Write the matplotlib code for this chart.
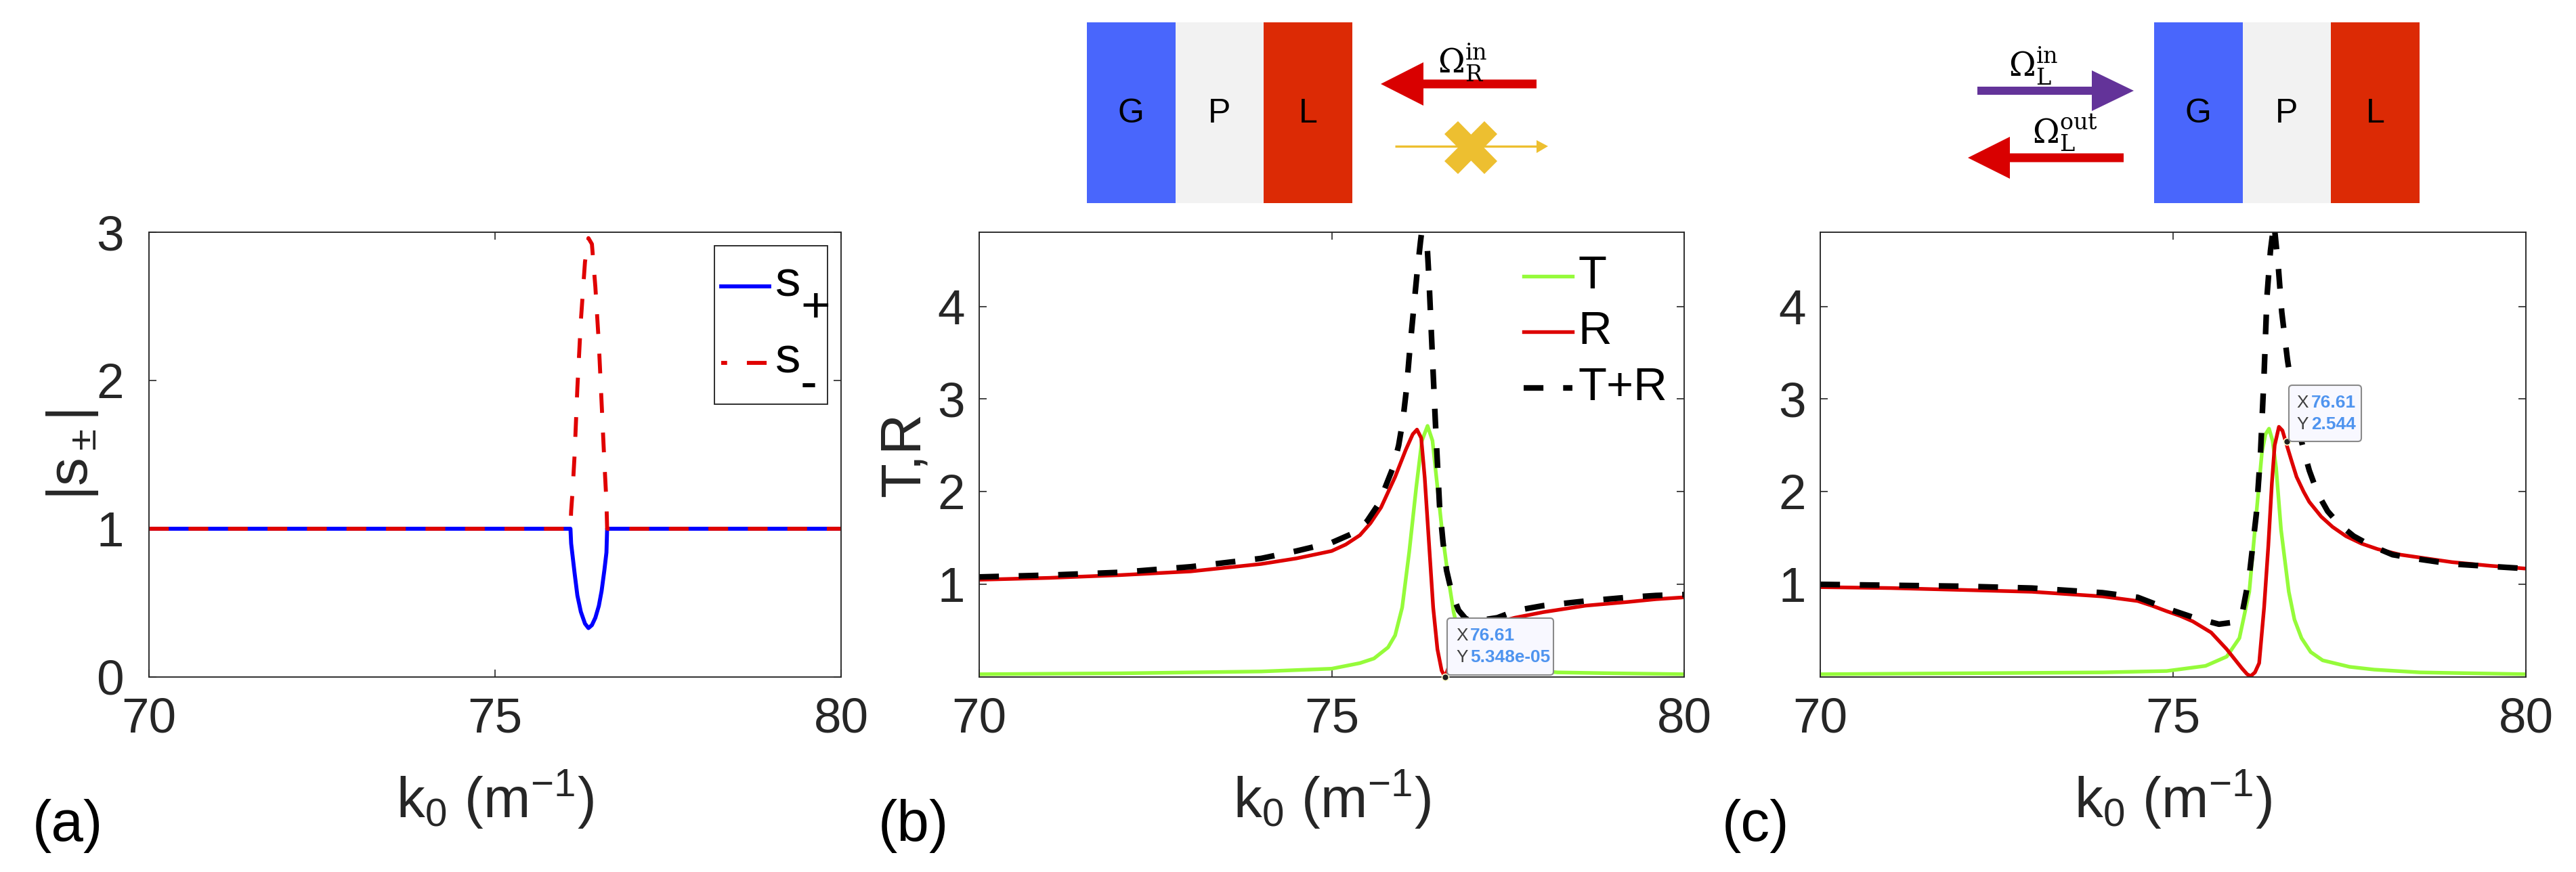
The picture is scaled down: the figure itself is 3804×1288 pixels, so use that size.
import matplotlib
matplotlib.use('Agg')
import matplotlib.pyplot as plt
from matplotlib.patches import Rectangle, Polygon, FancyBboxPatch

# ---------------- data ----------------
# (a) |s+| and |s-|
k_a = [70, 76.09, 76.10, 76.12, 76.15, 76.19, 76.24, 76.30, 76.35, 76.40, 76.45,
       76.50, 76.54, 76.58, 76.61, 76.62, 80]
s_plus = [1.0, 1.0, 0.90, 0.82, 0.70, 0.55, 0.44, 0.36, 0.33, 0.35, 0.40,
          0.48, 0.58, 0.72, 0.84, 1.0, 1.0]
s_minus = [1.0, 1.0, 1.12, 1.25, 1.50, 1.95, 2.40, 2.80, 2.96, 2.92, 2.63,
           2.25, 1.85, 1.45, 1.18, 1.0, 1.0]

# (b) incidence from the right
k_b_T = [70, 72, 73, 74, 75, 75.4, 75.6, 75.8, 75.9, 76.0, 76.1, 76.2, 76.28, 76.36,
         76.43, 76.5, 76.57, 76.65, 76.73, 76.8, 76.9, 77.0, 77.15, 77.3, 77.6, 78.2, 79, 80]
T_b = [0.03, 0.04, 0.05, 0.06, 0.09, 0.15, 0.20, 0.32, 0.45, 0.75, 1.35, 2.05, 2.55, 2.71,
       2.55, 2.05, 1.55, 1.09, 0.70, 0.48, 0.32, 0.24, 0.17, 0.13, 0.09, 0.05, 0.04, 0.03]

k_b_R = [70, 71, 72, 73, 74, 74.5, 75, 75.2, 75.4, 75.55, 75.7, 75.9, 76.05, 76.15, 76.21,
         76.27, 76.32, 76.38, 76.44, 76.50, 76.56, 76.61, 76.7, 76.8, 77.0, 77.3, 77.6, 78.0,
         78.6, 79.2, 79.6, 80]
R_b = [1.05, 1.07, 1.10, 1.14, 1.22, 1.28, 1.36, 1.43, 1.53, 1.66, 1.83, 2.16, 2.45, 2.62,
       2.67, 2.58, 2.15, 1.45, 0.75, 0.30, 0.07, 0.0, 0.20, 0.33, 0.47, 0.58, 0.64, 0.70,
       0.77, 0.81, 0.84, 0.86]

k_b_S = [70, 71, 72, 73, 74, 74.5, 75, 75.3, 75.5, 75.65, 75.75, 75.87, 75.95, 76.01, 76.06,
         76.11, 76.16, 76.21, 76.26, 76.30, 76.33, 76.38, 76.43, 76.47, 76.53, 76.58, 76.63,
         76.7, 76.8, 76.9, 77.0, 77.35, 77.63, 78.0, 78.6, 79.2, 79.6, 80]
S_b = [1.08, 1.10, 1.13, 1.19, 1.28, 1.36, 1.45, 1.55, 1.68, 1.85, 2.03, 2.26, 2.50, 2.77, 3.10,
       3.55, 3.95, 4.35, 4.70, 4.95, 5.0, 4.3, 3.44, 2.77, 1.85, 1.45, 1.15,
       0.92, 0.72, 0.63, 0.60, 0.64, 0.72, 0.77, 0.82, 0.86, 0.88, 0.89]

# (c) incidence from the left
k_c_T = [70, 72, 74, 74.91, 75.46, 75.76, 75.94, 76.08, 76.18, 76.26, 76.31, 76.36,
         76.41, 76.46, 76.53, 76.64, 76.72, 76.82, 76.95, 77.12, 77.5, 77.85, 78.5, 80]
T_c = [0.03, 0.04, 0.05, 0.065, 0.12, 0.22, 0.42, 0.92, 1.76, 2.43, 2.62, 2.68,
       2.55, 2.26, 1.59, 0.92, 0.62, 0.42, 0.27, 0.18, 0.11, 0.08, 0.05, 0.03]

k_c_R = [70, 71, 72, 73, 74, 74.5, 74.7, 74.91, 75.1, 75.28, 75.54, 75.76, 75.98, 76.05,
         76.10, 76.16, 76.22, 76.29, 76.35, 76.40, 76.44, 76.50, 76.55, 76.60, 76.68, 76.75,
         76.85, 76.93, 77.1, 77.26, 77.45, 77.67, 77.9, 78.22, 78.95, 79.5, 80]
R_c = [0.97, 0.96, 0.94, 0.92, 0.87, 0.82, 0.77, 0.71, 0.66, 0.60, 0.48, 0.30, 0.09, 0.03,
       0.01, 0.05, 0.15, 0.75, 1.42, 2.09, 2.50, 2.70, 2.66, 2.53, 2.33, 2.16,
       2.00, 1.89, 1.73, 1.62, 1.52, 1.44, 1.38, 1.32, 1.24, 1.20, 1.17]

k_c_S = [70, 71, 72, 73, 74, 74.5, 74.91, 75.3, 75.65, 75.85, 75.98, 76.08, 76.18, 76.24,
         76.29, 76.33, 76.38, 76.43, 76.49, 76.54, 76.62, 76.75, 76.85, 76.93, 77.05, 77.19,
         77.35, 77.56, 77.8, 78.11, 78.5, 78.95, 80]
S_c = [1.0, 0.99, 0.98, 0.96, 0.91, 0.86, 0.74, 0.64, 0.57, 0.59, 0.69, 1.09, 1.76, 2.43,
       3.27, 4.10, 4.6, 4.9, 4.44, 3.94, 3.43, 2.77, 2.45, 2.23, 1.98, 1.79,
       1.65, 1.52, 1.42, 1.32, 1.27, 1.22, 1.17]

# data tips
tip_b = (76.61, 5.348e-05)
tip_c = (76.61, 2.544)
tip_b_text = ('76.61', '5.348e-05')
tip_c_text = ('76.61', '2.544')

xticks = [70, 75, 80]

# ---------------- style ----------------
W, H, DPI = 3804, 1288, 300
plt.rcParams['font.family'] = ['Liberation Sans', 'DejaVu Sans']
plt.rcParams['mathtext.fontset'] = 'custom'
plt.rcParams['mathtext.rm'] = 'Liberation Sans'
plt.rcParams['mathtext.it'] = 'Liberation Sans:italic'
plt.rcParams['mathtext.bf'] = 'Liberation Sans:bold'

AX = '#262626'
GREEN = '#95fb3a'
RED = '#dd0000'
BLUE = '#0000ff'
RED_A = '#e00000'
DASH_A = (0, (5, 5))
DASH_S = (0, (3.5, 3.5))

fig = plt.figure(figsize=(W / DPI, H / DPI), dpi=DPI)


def px_axes(x0, x1, y0, y1):
    return fig.add_axes([x0 / W, 1 - y1 / H, (x1 - x0) / W, (y1 - y0) / H])


def style(ax, ylim, yticks, ypad=5):
    ax.set_xlim(70, 80)
    ax.set_ylim(*ylim)
    ax.set_xticks(xticks)
    ax.set_yticks(yticks)
    ax.tick_params(direction='in', length=2.6, width=0.4, top=True, right=True,
                   labelsize=17.5, colors=AX)
    ax.tick_params(axis='x', pad=7)
    ax.tick_params(axis='y', pad=ypad)
    for s in ax.spines.values():
        s.set_linewidth(0.45)
        s.set_color(AX)
    ax.set_xlabel(r'k$_\mathregular{0}$ (m$^\mathregular{-1}$)', fontsize=20, color=AX)
    ax.xaxis.set_label_coords(0.5, -0.205)


ax_a = px_axes(220, 1242, 343, 1000)
ax_b = px_axes(1446, 2487, 343, 1000)
ax_c = px_axes(2688, 3730, 343, 1000)

# (a)
ax_a.plot(k_a, s_plus, color=BLUE, lw=1.4)
ax_a.plot(k_a, s_minus, color=RED_A, lw=1.4, ls=DASH_A)
style(ax_a, (0, 3), [0, 1, 2, 3], ypad=9)
ax_a.set_ylabel(r'|s$_\pm$|', fontsize=20, color=AX)
ax_a.yaxis.set_label_coords(-0.07, 0.5)

# (b), (c)
for ax, kT, T, kR, R, kS, S in [(ax_b, k_b_T, T_b, k_b_R, R_b, k_b_S, S_b),
                                (ax_c, k_c_T, T_c, k_c_R, R_c, k_c_S, S_c)]:
    ax.plot(kT, T, color=GREEN, lw=1.3)
    ax.plot(kR, R, color=RED, lw=1.3)
    ax.plot(kS, S, color='black', lw=2.0, ls=DASH_S)
    style(ax, (0, 4.8), [1, 2, 3, 4])

ax_b.set_ylabel('T,R', fontsize=20, color=AX)
ax_b.yaxis.set_label_coords(-0.069, 0.5)

# data tip dots
ax_b.plot(*tip_b, 'o', ms=2.4, color='#202020', mec='#ffffd0', mew=0.4, clip_on=False, zorder=6)
ax_c.plot(*tip_c, 'o', ms=2.4, color='#202020', mec='#ffffd0', mew=0.4, clip_on=False, zorder=6)

# panel letters
for x, s in [(100, '(a)'), (1349, '(b)'), (2593, '(c)')]:
    fig.text(x / W, 1 - 1220 / H, s, ha='center', va='center', fontsize=20.5)

# ---------------- overlay in pixel coordinates (legends, schematics, data tips) ----------------
ov = fig.add_axes([0, 0, 1, 1])
ov.set_xlim(0, W)
ov.set_ylim(H, 0)
ov.axis('off')

# legend (a), MATLAB style with full-size subscripts
ov.add_patch(Rectangle((1055, 363), 167, 234, fc='white', ec=AX, lw=0.45))
ov.plot([1065, 1136], [423, 423], color=BLUE, lw=1.4)
ov.plot([1065, 1136], [536, 536], color=RED_A, lw=1.4, ls=(3.5, (5, 5)))
for yc, sub in [(418, '+'), (531, '-')]:
    ov.text(1145, yc, 's', fontsize=18, ha='left', va='center')
    ov.text(1182, yc + 38, sub, fontsize=18, ha='left', va='center')

# legend (b)
for yc, lab, col, lw, ls in [(408, 'T', GREEN, 1.3, '-'), (490, 'R', RED, 1.3, '-'),
                             (573, 'T+R', 'black', 2.0, DASH_S)]:
    ov.plot([2250, 2322], [yc, yc], color=col, lw=lw, ls=ls)
    ov.text(2330, yc, lab, fontsize=16.5, ha='left', va='center')


def datatip(x0, x1, y0, y1, xv, yv, tx, vx):
    ov.add_patch(FancyBboxPatch((x0, y0), x1 - x0, y1 - y0,
                                boxstyle='round,pad=0,rounding_size=5',
                                fc='#f8f8ff', ec='#8a8a8a', lw=0.5))
    ym = (y0 + y1) / 2
    for yy, lab, val in [(ym - 16, 'X', xv), (ym + 16, 'Y', yv)]:
        ov.text(tx, yy, lab, fontsize=6.3, color='#404040', va='center', ha='left')
        ov.text(vx, yy, val, fontsize=6.3, color='#4f94ef', fontweight='bold',
                va='center', ha='left')


datatip(2137, 2294, 913, 997, *tip_b_text, 2150, 2171)
datatip(3380, 3487, 569, 652, *tip_c_text, 3391, 3413)

BLUE_G, GREY_P, RED_L = '#4966fc', '#f2f2f2', '#dc2a05'
narrow = ['Liberation Sans Narrow', 'Liberation Sans']


def stack(x0, w):
    for i, (c, lab) in enumerate([(BLUE_G, 'G'), (GREY_P, 'P'), (RED_L, 'L')]):
        ov.add_patch(Rectangle((x0 + i * w, 33), w, 267, fc=c, ec='none'))
        ov.text(x0 + (i + 0.5) * w, 168, lab, ha='center', va='center',
                fontsize=12, family=narrow)


def arrow(tip, base, end, yc, half_head, half_shaft, color):
    pts = [(tip, yc), (base, yc - half_head), (base, yc - half_shaft), (end, yc - half_shaft),
           (end, yc + half_shaft), (base, yc + half_shaft), (base, yc + half_head)]
    ov.add_patch(Polygon(pts, closed=True, fc=color, ec='none'))


def omega(x, y, sub, sup):
    ov.text(x, y, r'$\Omega_{\mathrm{%s}}^{\mathrm{%s}}$' % (sub, sup), ha='center',
            va='center', fontsize=11.5, math_fontfamily='dejavuserif')


YEL = '#edbf30'
# panel (b) schematic
stack(1605, 130.7)
arrow(2039, 2102, 2269, 124, 32, 6.5, '#d90000')
omega(2160, 92, 'R', 'in')
ov.plot([2060, 2272], [216, 216], color=YEL, lw=0.8, solid_capstyle='butt')
ov.add_patch(Polygon([(2286, 216), (2269, 207), (2269, 226)], closed=True, fc=YEL, ec='none'))
ov.add_patch(Polygon([(2153, 179), (2133, 198), (2192, 257), (2211, 238)], closed=True,
                     fc=YEL, ec='none'))
ov.add_patch(Polygon([(2192, 179), (2211, 198), (2153, 257), (2133, 238)], closed=True,
                     fc=YEL, ec='none'))

# panel (c) schematic
stack(3181, 130.7)
arrow(3151, 3089, 2920, 134, 30, 6, '#633399')
omega(3003, 97, 'L', 'in')
arrow(2906, 2968, 3136, 233, 31, 6.5, '#d90000')
omega(3050, 196, 'L', 'out')

fig.savefig('out.png', dpi=DPI)
